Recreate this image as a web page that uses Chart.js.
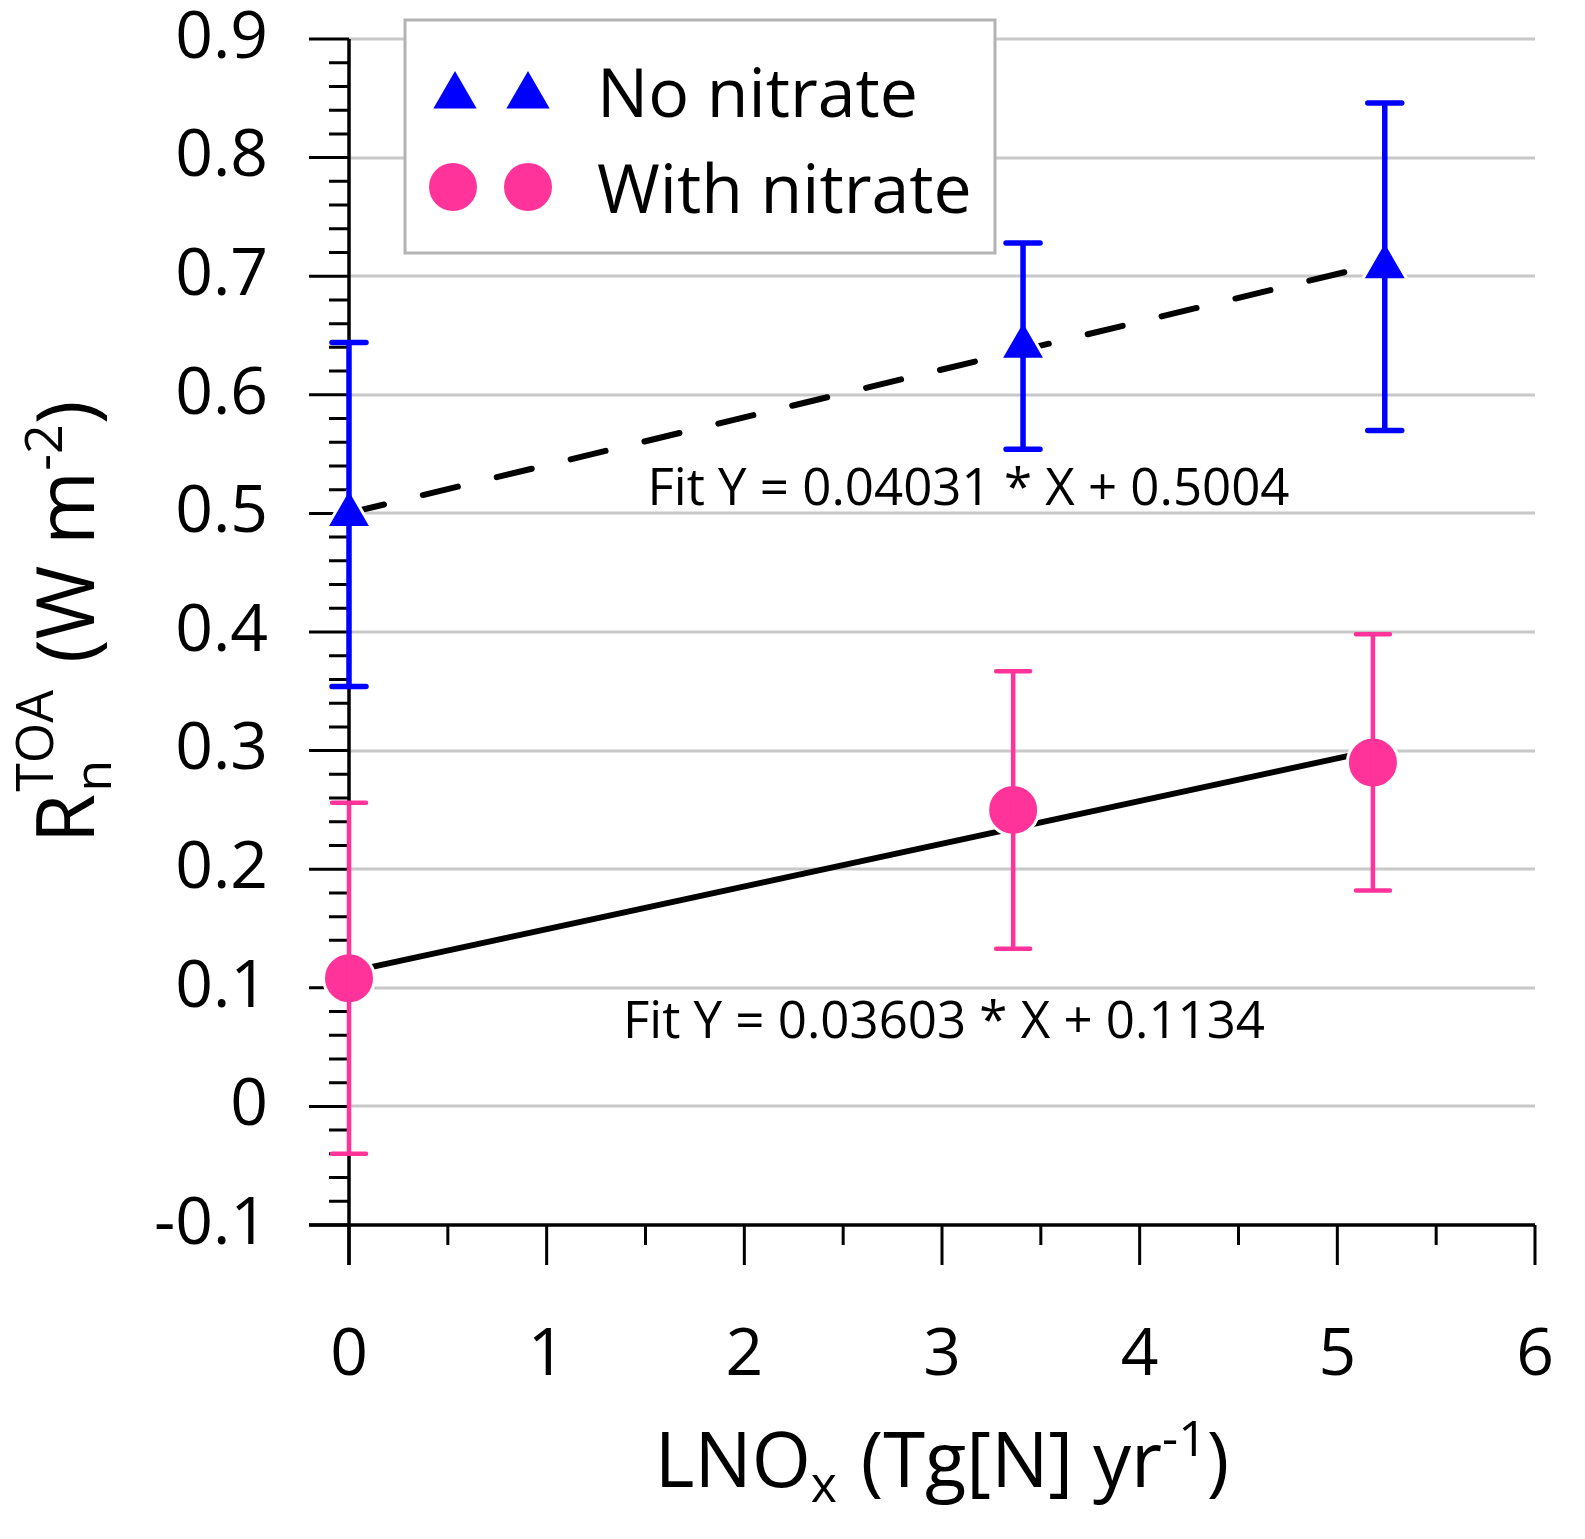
<!DOCTYPE html>
<html>
<head>
<meta charset="utf-8">
<script src="https://cdn.jsdelivr.net/npm/chart.js@4.4.1/dist/chart.umd.min.js"></script>
<style>
  html, body { margin: 0; padding: 0; background: #fff; overflow: hidden; }
  #myChart { display: block; }
</style>
</head>
<body>
<canvas id="myChart" width="1585" height="1539"></canvas>
<script>
// data
const xNoNitrate = [0, 3.41, 5.24];
const yNoNitrate = [0.499, 0.641, 0.708];
const errNoNitrate = [0.145, 0.087, 0.138];

const xWithNitrate = [0, 3.36, 5.18];
const yWithNitrate = [0.108, 0.250, 0.290];
const errWithNitrate = [0.148, 0.117, 0.108];

// fit lines (ends of the drawn segments)
const fitNoX = [0, 5.24];
const fitNoY = [0.5004, 0.7116];
const fitWithX = [0, 5.18];
const fitWithY = [0.1134, 0.3000];

const fitNoLabel = 'Fit Y = 0.04031 * X + 0.5004';
const fitWithLabel = 'Fit Y = 0.03603 * X + 0.1134';
const fitNoLabelAt = [1.51, 0.507];
const fitWithLabelAt = [1.386, 0.058];

const legendLabels = ['No nitrate', 'With nitrate'];

const BLUE = '#0000ff';
const PINK = '#ff3399';
const FONT = 'Open Sans';

function toPoints(xs, ys) {
  return xs.map((x, i) => ({ x: x, y: ys[i] }));
}

// draw text made of pieces (normal / sub / sup), pieces with stack:true don't advance
function richWidth(ctx, parts) {
  let w = 0;
  parts.forEach(p => {
    ctx.font = p.size + 'px "' + FONT + '"';
    const pw = ctx.measureText(p.t).width;
    if (!p.stack) w += pw + (p.gap || 0);
  });
  return w;
}
function drawRich(ctx, parts, x, y) {
  let cx = x;
  parts.forEach(p => {
    ctx.font = p.size + 'px "' + FONT + '"';
    ctx.fillText(p.t, cx, y + (p.dy || 0));
    if (!p.stack) cx += ctx.measureText(p.t).width + (p.gap || 0);
  });
}

// axes, grid and minor ticks in Excel style
const excelAxes = {
  id: 'excelAxes',
  beforeDatasetsDraw(chart) {
    const { ctx, chartArea: { left, right, top, bottom }, scales: { x, y } } = chart;
    ctx.save();
    // grid
    ctx.strokeStyle = '#c8c8c8';
    ctx.lineWidth = 3;
    y.ticks.forEach(t => {
      const py = Math.round(y.getPixelForValue(t.value));
      if (Math.abs(py - bottom) < 2) return;
      ctx.beginPath();
      ctx.moveTo(left, py);
      ctx.lineTo(right, py);
      ctx.stroke();
    });
    ctx.strokeStyle = '#000';
    ctx.lineWidth = 3.5;
    // axis lines
    ctx.beginPath();
    ctx.moveTo(left - 40, bottom);
    ctx.lineTo(right, bottom);
    ctx.moveTo(left, top);
    ctx.lineTo(left, bottom + 40);
    ctx.stroke();
    // y ticks
    ctx.lineWidth = 3;
    const yv = y.ticks.map(t => t.value);
    ctx.beginPath();
    yv.forEach((v, i) => {
      const py = y.getPixelForValue(v);
      ctx.moveTo(left - 40, py);
      ctx.lineTo(left, py);
      if (i < yv.length - 1) {
        for (let k = 1; k < 5; k++) {
          const pm = y.getPixelForValue(v + (yv[i + 1] - v) * k / 5);
          ctx.moveTo(left - 20, pm);
          ctx.lineTo(left, pm);
        }
      }
    });
    // x ticks
    const xv = x.ticks.map(t => t.value);
    xv.forEach((v, i) => {
      const px = x.getPixelForValue(v);
      ctx.moveTo(px, bottom);
      ctx.lineTo(px, bottom + 40);
      if (i < xv.length - 1) {
        const pm = x.getPixelForValue((v + xv[i + 1]) / 2);
        ctx.moveTo(pm, bottom);
        ctx.lineTo(pm, bottom + 20);
      }
    });
    ctx.stroke();
    ctx.restore();
  },
  afterDatasetsDraw(chart) {
    const { ctx, scales: { x, y } } = chart;
    ctx.save();
    ctx.lineCap = 'round';
    chart.data.datasets.forEach(ds => {
      if (!ds.errorBars) return;
      ctx.strokeStyle = ds.backgroundColor;
      ctx.lineWidth = ds.errorWidth;
      ds.data.forEach((p, i) => {
        const e = ds.errorBars[i];
        const px = x.getPixelForValue(p.x);
        const y1 = y.getPixelForValue(p.y + e);
        const y2 = y.getPixelForValue(p.y - e);
        ctx.beginPath();
        ctx.moveTo(px, y1);
        ctx.lineTo(px, y2);
        ctx.moveTo(px - 17, y1);
        ctx.lineTo(px + 17, y1);
        ctx.moveTo(px - 17, y2);
        ctx.lineTo(px + 17, y2);
        ctx.stroke();
      });
    });
    // fit labels
    ctx.fillStyle = '#000';
    ctx.textBaseline = 'alphabetic';
    ctx.textAlign = 'left';
    ctx.font = '51px "' + FONT + '"';
    ctx.fillText(fitNoLabel, x.getPixelForValue(fitNoLabelAt[0]), y.getPixelForValue(fitNoLabelAt[1]));
    ctx.fillText(fitWithLabel, x.getPixelForValue(fitWithLabelAt[0]), y.getPixelForValue(fitWithLabelAt[1]));
    ctx.restore();
  },
  afterDraw(chart) {
    const { ctx, chartArea: { left, right, top, bottom } } = chart;
    const dsNo = chart.data.datasets[2];
    const dsWith = chart.data.datasets[3];
    ctx.save();
    // legend
    ctx.fillStyle = '#fff';
    ctx.fillRect(405, 20, 590, 233);
    ctx.strokeStyle = '#b3b3b3';
    ctx.lineWidth = 3;
    ctx.strokeRect(405, 20, 590, 233);
    const triOpts = { pointStyle: 'triangle', radius: 25, borderWidth: 0, rotation: 0 };
    const cirOpts = { pointStyle: 'circle', radius: 24, borderWidth: 0, rotation: 0 };
    ctx.fillStyle = dsNo.backgroundColor;
    ctx.strokeStyle = dsNo.backgroundColor;
    [455, 528].forEach(px => Chart.helpers.drawPoint(ctx, triOpts, px, 96));
    ctx.fillStyle = dsWith.backgroundColor;
    ctx.strokeStyle = dsWith.backgroundColor;
    [453, 528].forEach(px => Chart.helpers.drawPoint(ctx, cirOpts, px, 187));
    ctx.fillStyle = '#000';
    ctx.textAlign = 'left';
    ctx.textBaseline = 'alphabetic';
    ctx.font = '68px "' + FONT + '"';
    ctx.fillText(legendLabels[0], 597, 117);
    ctx.fillText(legendLabels[1], 597, 213);

    // x title
    const xt = [
      { t: 'LNO', size: 76 },
      { t: 'x', size: 50, dy: 15, gap: 4 },
      { t: ' (Tg[N] yr', size: 76 },
      { t: '-1', size: 50, dy: -31 },
      { t: ')', size: 76 }
    ];
    const xw = richWidth(ctx, xt);
    drawRich(ctx, xt, (left + right) / 2 - xw / 2, 1487);

    // y title, rotated
    const yt = [
      { t: 'R', size: 80, gap: 2 },
      { t: 'n', size: 52, dy: 17, stack: true },
      { t: 'TOA', size: 52, dy: -41, gap: 6 },
      { t: ' (W m', size: 80 },
      { t: '-2', size: 52, dy: -32 },
      { t: ')', size: 80 }
    ];
    const yw = richWidth(ctx, yt);
    ctx.translate(94, (top + bottom) / 2 - 10);
    ctx.rotate(-Math.PI / 2);
    drawRich(ctx, yt, -yw / 2, 0);
    ctx.restore();
  }
};

const ctx = document.getElementById('myChart');
new Chart(ctx, {
  type: 'scatter',
  data: {
    datasets: [
      {
        label: 'fit no nitrate',
        data: toPoints(fitNoX, fitNoY),
        showLine: true,
        borderColor: '#000',
        borderWidth: 6,
        borderDash: [36, 40],
        borderCapStyle: 'round',
        pointRadius: 0,
        clip: false,
        order: 2
      },
      {
        label: 'fit with nitrate',
        data: toPoints(fitWithX, fitWithY),
        showLine: true,
        borderColor: '#000',
        borderWidth: 6,
        pointRadius: 0,
        clip: false,
        order: 2
      },
      {
        label: legendLabels[0],
        data: toPoints(xNoNitrate, yNoNitrate),
        errorBars: errNoNitrate,
        errorWidth: 5.5,
        pointStyle: 'triangle',
        pointRadius: 26,
        backgroundColor: BLUE,
        borderColor: '#fff',
        borderWidth: 3,
        clip: false,
        order: 0
      },
      {
        label: legendLabels[1],
        data: toPoints(xWithNitrate, yWithNitrate),
        errorBars: errWithNitrate,
        errorWidth: 4.5,
        pointStyle: 'circle',
        pointRadius: 25.5,
        backgroundColor: PINK,
        borderColor: '#fff',
        borderWidth: 3,
        clip: false,
        order: 0
      }
    ]
  },
  options: {
    responsive: false,
    animation: false,
    devicePixelRatio: 1,
    layout: { padding: { left: 0, top: 39, right: 50, bottom: 0 } },
    plugins: {
      legend: { display: false },
      tooltip: { enabled: false }
    },
    scales: {
      x: {
        type: 'linear',
        min: 0,
        max: 6,
        grid: { display: false, drawTicks: false },
        border: { display: false },
        ticks: {
          stepSize: 1,
          padding: 92,
          color: '#000',
          font: { family: FONT, size: 66 }
        },
        afterFit(scale) {
          scale.height = 314;
          scale.paddingLeft = 0;
          scale.paddingRight = 0;
        }
      },
      y: {
        type: 'linear',
        min: -0.1,
        max: 0.9,
        grid: { display: false, drawTicks: false },
        border: { display: false },
        ticks: {
          stepSize: 0.1,
          padding: 81,
          color: '#000',
          font: { family: FONT, size: 66 },
          callback: v => String(+v.toFixed(1))
        },
        afterFit(scale) {
          scale.width = 349;
          scale.paddingTop = 0;
          scale.paddingBottom = 0;
        }
      }
    }
  },
  plugins: [excelAxes]
});
</script>
</body>
</html>
